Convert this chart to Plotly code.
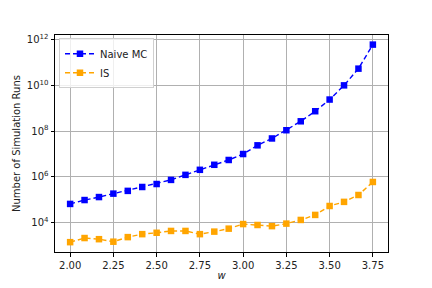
import plotly.graph_objects as go

w = [2.0, 2.0833, 2.1667, 2.25, 2.3333, 2.4167, 2.5, 2.5833, 2.6667, 2.75, 2.8333,
     2.9167, 3.0, 3.0833, 3.1667, 3.25, 3.3333, 3.4167, 3.5, 3.5833, 3.6667, 3.75]
naive_log = [4.82, 4.99, 5.12, 5.27, 5.39, 5.56, 5.69, 5.87, 6.09, 6.31, 6.53,
             6.74, 7.0, 7.38, 7.68, 8.04, 8.43, 8.87, 9.38, 10.0, 10.73, 11.78]
is_log = [3.15, 3.33, 3.28, 3.17, 3.37, 3.50, 3.56, 3.64, 3.64, 3.50, 3.61,
          3.74, 3.94, 3.90, 3.85, 3.96, 4.12, 4.34, 4.73, 4.91, 5.21, 5.78]
naive = [10 ** v for v in naive_log]
is_runs = [10 ** v for v in is_log]

x_ticks = [2.0, 2.25, 2.5, 2.75, 3.0, 3.25, 3.5, 3.75]
y_exps = [4, 6, 8, 10, 12]

fig = go.Figure()
fig.add_trace(go.Scatter(x=w, y=naive, name="Naive MC", mode="lines+markers",
                         line=dict(color="#0000ff", dash="5px,3px", width=1.4),
                         marker=dict(symbol="square", size=6.5, color="#0000ff")))
fig.add_trace(go.Scatter(x=w, y=is_runs, name="IS", mode="lines+markers",
                         line=dict(color="#ffa500", dash="5px,3px", width=1.4),
                         marker=dict(symbol="square", size=6.5, color="#ffa500")))

fig.update_layout(
    width=424, height=280,
    margin=dict(l=47, r=44, t=27, b=36, autoexpand=False),
    paper_bgcolor="white", plot_bgcolor="white",
    font=dict(family="DejaVu Sans", size=10, color="#222"),
    legend=dict(x=0.012, y=0.985, xanchor="left", yanchor="top",
                bordercolor="#d0d0d0", borderwidth=1, bgcolor="rgba(255,255,255,0.8)",
                font=dict(size=10), itemwidth=30, tracegroupgap=0),
    xaxis=dict(range=[1.9125, 3.8375], tickvals=x_ticks,
               ticktext=[f"{t:.2f}" for t in x_ticks],
               showgrid=True, gridcolor="#b0b0b0", gridwidth=0.8,
               ticks="outside", ticklen=3.5, tickcolor="black",
               showline=True, linecolor="black", linewidth=1, mirror=True,
               zeroline=False, automargin=False,
               title=dict(text="<i>w</i>", standoff=2, font=dict(size=10))),
    yaxis=dict(type="log", range=[2.72, 12.2],
               tickvals=[10 ** e for e in y_exps],
               ticktext=[f"10<sup>{e}</sup>" for e in y_exps],
               showgrid=True, gridcolor="#b0b0b0", gridwidth=0.8,
               ticks="outside", ticklen=3.5, tickcolor="black",
               showline=True, linecolor="black", linewidth=1, mirror=True,
               zeroline=False, automargin=False,
               title=dict(text="Number of Simulation Runs", standoff=4, font=dict(size=10))),
)

fig.write_html("out.html")
